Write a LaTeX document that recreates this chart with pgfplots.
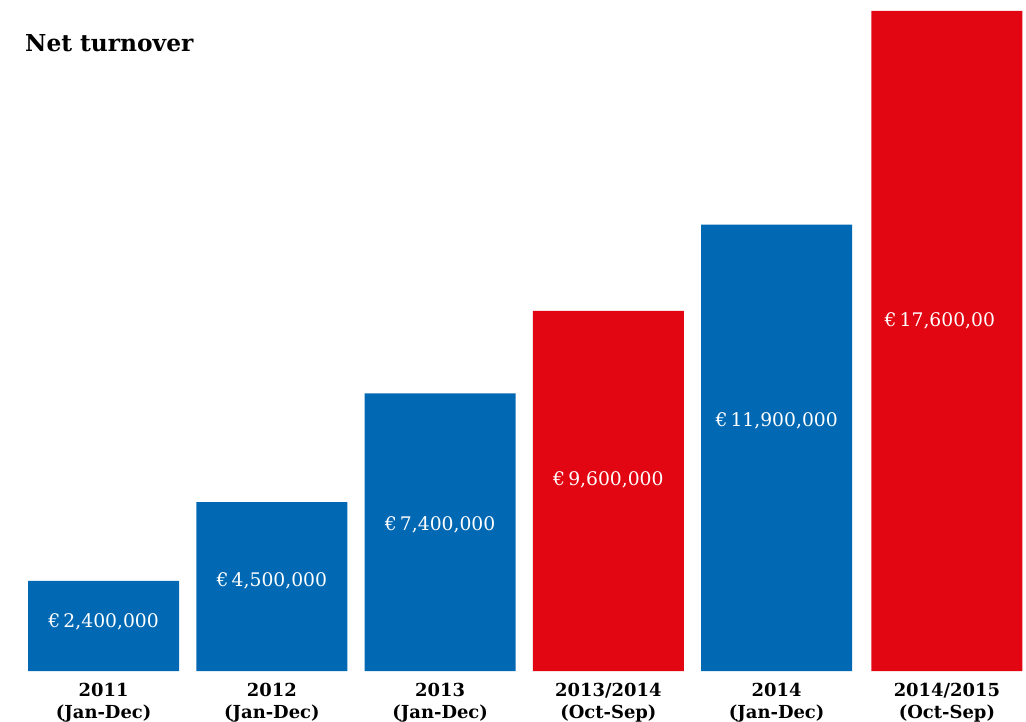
\documentclass[border=0pt]{standalone}
\usepackage{pgfplots}
\pgfplotsset{compat=1.18}
\usepackage{fontspec}
\setmainfont{DejaVu Serif}
\definecolor{barblue}{RGB}{1,104,180}
\definecolor{barred}{RGB}{226,6,19}
\begin{document}
\begin{tikzpicture}
\useasboundingbox (0,0) rectangle (1026bp,722bp);
\node[anchor=base west,inner sep=0pt,font=\fontsize{23.4}{26}\selectfont\bfseries] at (25bp,670bp) {Net turnover};
\begin{axis}[
  at={(0,51bp)}, anchor=south west,
  scale only axis, width=1026bp, height=671bp,
  xmin=-0.616, xmax=5.482, ymin=0, ymax=17.893,
  axis line style={draw=none},
  ytick=\empty,
  xtick={0,1,2,3,4,5.012},
  major tick length=0pt,
  xticklabels={{2011\\(Jan-Dec)},{2012\\(Jan-Dec)},{2013\\(Jan-Dec)},{2013/2014\\(Oct-Sep)},{2014\\(Jan-Dec)},{2014/2015\\(Oct-Sep)}},
  xticklabel style={align=center,font=\fontsize{18}{22}\selectfont\bfseries,yshift=-9bp},
  ybar, bar width=151bp,
  clip=false,
]
\addplot[fill=barblue,draw=none,bar shift=0pt] coordinates {(0,2.4) (1,4.5) (2,7.4) (4,11.9)};
\addplot[fill=barred,draw=none,bar shift=0pt] coordinates {(3,9.6) (5.012,17.6)};
\begin{scope}[every node/.style={text=white,font=\fontsize{18.8}{20}\selectfont,text depth=0pt}]
\node at (axis cs:0,1.333) {€\,2,400,000};
\node at (axis cs:1,2.427) {€\,4,500,000};
\node at (axis cs:2,3.92) {€\,7,400,000};
\node at (axis cs:3,5.12) {€\,9,600,000};
\node at (axis cs:4,6.693) {€\,11,900,000};
\node at (axis cs:4.97,9.36) {€\,17,600,00};
\end{scope}
\end{axis}
\end{tikzpicture}
\end{document}
